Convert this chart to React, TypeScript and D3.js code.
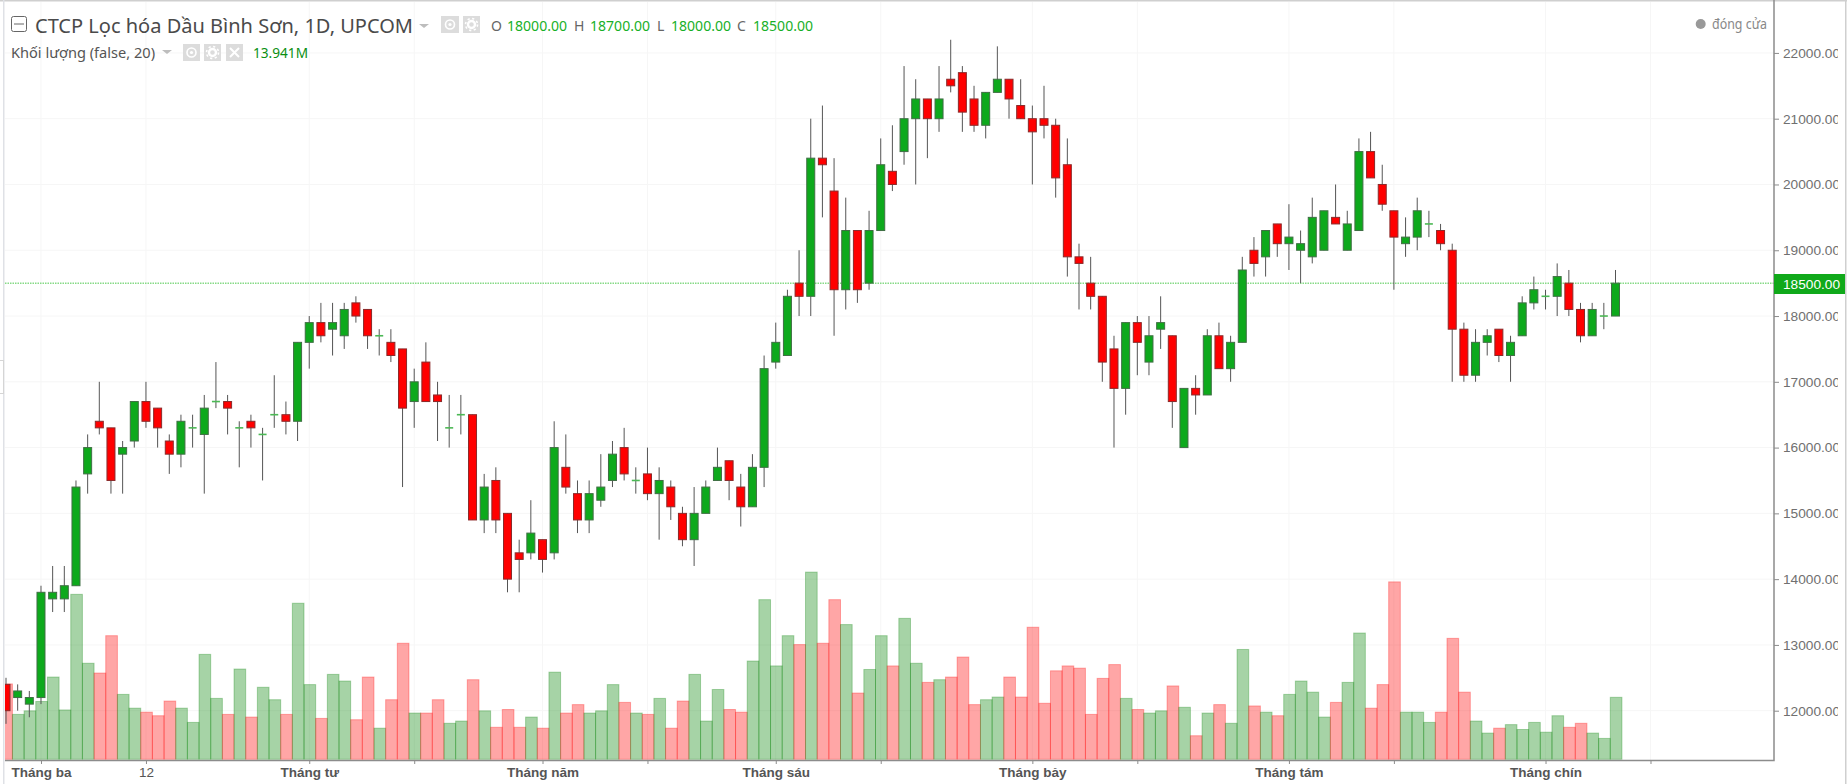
import * as d3 from "d3"
import { useRef, useEffect } from "react"

const opens = [12400,12200,12100,12200,13700,13700,13900,15600,16400,16300,15900,16100,16700,16600,16100,15900,16300,16200,16700,16700,16300,16400,16200,16500,16500,16400,17600,17900,17800,17700,18200,18100,17700,17600,17500,16700,17300,16800,16300,16500,16500,14900,15500,15000,14400,14400,14600,14400,15700,15300,14900,15200,15500,16000,15500,15600,15300,15400,15000,14600,15000,15500,15800,15400,15100,15700,17300,17400,18500,18300,20400,19900,18400,19300,18500,19300,20200,20500,21000,21300,21000,21600,21700,21300,20900,21400,21600,21200,21000,21000,20900,20300,18900,18500,18300,17500,16900,17900,17300,17800,17700,16000,16900,16800,17700,17200,17600,19000,18900,19400,19100,19000,18900,19000,19500,19000,19300,20500,20000,19600,19100,19200,19400,19300,19000,17800,17100,17600,17800,17400,17700,18200,18300,18300,18500,18100,17700,18000,18000]
const highs = [12500,12400,12300,13900,14200,14200,15500,16200,17000,16300,16100,16700,17000,16600,16200,16500,16500,16800,17300,16800,16400,16500,16300,17100,16700,17600,18000,18200,18200,18200,18300,18100,17800,17800,17500,17200,17600,17000,16800,16800,16500,15600,15700,15000,14600,15200,14600,16400,16200,15500,15500,15900,16100,16300,15700,16000,15700,15500,15100,15400,15500,16000,15800,15600,15900,17400,17900,18400,19000,21000,21200,20400,19800,19300,19600,20700,20900,21800,21600,21300,21800,22200,21800,21500,21400,22100,21600,21600,21200,21500,21000,20700,19100,18900,18300,17700,17900,18000,18000,18300,17700,16900,17100,17800,17900,17700,18900,19200,19300,19400,19700,19300,19800,19600,20000,19600,20700,20800,20300,19600,19500,19800,19600,19400,19100,17900,17800,17800,17800,17700,18300,18600,18400,18800,18700,18200,18200,18200,18700]
const lows = [11800,12000,11900,12100,13500,13500,13900,15300,16200,15300,15300,16000,16300,16000,15600,15700,16000,15300,16600,16200,15700,16000,15500,16300,16200,16100,17200,17600,17400,17500,17900,17500,17400,17300,15400,16300,16700,16100,16000,16200,14900,14700,14700,13800,13800,14300,14100,14300,15300,14700,14700,15100,15400,15500,15300,15200,14600,14900,14500,14200,15000,15500,15200,14800,15100,15400,17200,17400,18000,18000,19500,17700,18100,18200,18400,19300,19900,20300,20000,20400,20800,21400,20800,20800,20700,21400,21000,21000,20000,20700,19800,18600,18100,18100,17000,16000,16500,17100,17100,17500,16300,16000,16500,16800,17200,17000,17600,18600,18600,18900,18700,18500,18800,19000,19400,19000,19300,20100,19600,18400,18900,19000,19200,19000,17000,17000,17000,17400,17300,17000,17700,18100,18100,18000,18000,17600,17700,17800,18000]
const closes = [12000,12300,12200,13800,13800,13900,15400,16000,16300,15500,16000,16700,16400,16300,15900,16400,16300,16600,16700,16600,16300,16300,16200,16500,16400,17600,17900,17700,17900,18100,18000,17700,17700,17400,16600,17000,16700,16700,16300,16500,14900,15400,14900,14000,14300,14700,14300,16000,15400,14900,15300,15400,15900,15600,15500,15300,15500,15100,14600,15000,15400,15700,15500,15100,15700,17200,17600,18300,18300,20400,20300,18400,19300,18400,19300,20300,20000,21000,21300,21000,21300,21500,21100,20900,21400,21600,21300,21000,20800,20900,20100,18900,18800,18300,17300,16900,17900,17600,17700,17900,16700,16900,16800,17700,17200,17600,18700,18800,19300,19100,19200,19100,19500,19600,19400,19400,20500,20100,19700,19200,19200,19600,19400,19100,17800,17100,17600,17700,17400,17600,18200,18400,18300,18600,18100,17700,18100,18000,18500]
const volumes = [16.95,10.1,10.9,13.0,18.5,11.1,37.1,21.6,19.4,27.8,14.6,11.5,10.6,9.8,13.1,11.5,8.3,23.6,13.7,10.1,20.3,9.5,16.2,13.4,10.1,35.1,16.8,9.2,19.1,17.6,8.9,18.5,7.0,13.4,26.1,10.4,10.4,13.4,8.1,8.6,17.9,10.9,7.2,11.2,7.2,9.5,7.0,19.6,10.4,12.3,10.4,10.9,16.8,12.8,10.4,10.1,13.7,7.0,13.1,19.1,8.6,15.7,11.2,10.6,22.1,35.9,21.0,27.8,25.8,42.1,26.1,35.9,30.3,14.9,20.2,27.8,21.0,31.7,21.6,17.3,17.9,18.5,23.0,12.3,13.4,14.0,18.5,14.0,29.7,12.6,19.9,21.0,20.5,10.1,18.2,21.3,13.7,11.2,10.4,10.9,16.5,11.7,5.3,10.4,12.3,8.1,24.7,12.0,10.6,9.8,14.6,17.6,15.1,9.5,12.8,17.3,28.4,11.5,16.8,39.9,10.6,10.6,8.3,10.6,27.2,15.1,8.6,5.9,7.0,7.8,6.7,8.3,6.1,9.8,7.2,8.1,5.9,4.7,13.941]

const priceTicks = [12000,13000,14000,15000,16000,17000,18000,19000,20000,21000,22000]
const lastPrice = 18500
const timeTicks = [3,12,26,35,46,55,66,75,88,97,110,119,132,141]
const timeLabels = ["Tháng ba","12","Tháng tư","","Tháng năm","","Tháng sáu","","Tháng bảy","","Tháng tám","","Tháng chín",""]

const UP = "#10a91a"
const DOWN = "#ff0000"
const AXIS = "#8c8c8c"

export default function App() {
  const svgRef = useRef<SVGSVGElement>(null)

  useEffect(() => {
    if (!svgRef.current) return
    const svg = d3.select(svgRef.current)
    svg.selectAll("*").remove()

    const paneLeft = 5
    const paneRight = 1774
    const paneTop = 2
    const paneBottom = 760

    const xScale = d3.scaleLinear().domain([0, 138]).range([6, 1615.5])
    const yScale = d3.scaleLinear().domain([12000, 21000]).range([710.7, 118.7])
    const volScale = d3.scaleLinear().domain([0, 45]).range([759.3, 559.2])
    const step = xScale(1) - xScale(0)
    const bodyWidth = 8

    const isUp = (i: number) => closes[i] >= opens[i]
    const idx = d3.range(closes.length)

    const defs = svg.append("defs")
    defs
      .append("clipPath")
      .attr("id", "pane")
      .append("rect")
      .attr("x", paneLeft)
      .attr("y", paneTop)
      .attr("width", paneRight - paneLeft)
      .attr("height", paneBottom - paneTop)
    defs
      .append("clipPath")
      .attr("id", "scale")
      .append("rect")
      .attr("x", paneRight)
      .attr("y", 0)
      .attr("width", 64)
      .attr("height", 784)
    defs.append("filter").attr("id", "soft").append("feGaussianBlur").attr("stdDeviation", 0.35)

    // frame
    svg.append("rect").attr("width", 1847).attr("height", 784).attr("fill", "#fff")
    svg.append("rect").attr("x", 0).attr("y", 0).attr("width", 1847).attr("height", 1.5).attr("fill", "#cfcfcf")
    svg.append("rect").attr("x", 3).attr("y", 0).attr("width", 1.5).attr("height", 784).attr("fill", "#dfe1e6")
    svg.append("rect").attr("x", 1845).attr("y", 0).attr("width", 1.5).attr("height", 784).attr("fill", "#cfcfcf")
    svg
      .append("rect")
      .attr("x", -1)
      .attr("y", 360.5)
      .attr("width", 4.5)
      .attr("height", 33)
      .attr("fill", "#fff")
      .attr("stroke", "#d5d5d5")

    // grid
    const grid = svg.append("g").attr("stroke", "#f6f6f6").attr("stroke-width", 1)
    grid
      .selectAll("line.h")
      .data(priceTicks)
      .enter()
      .append("line")
      .attr("x1", paneLeft)
      .attr("x2", paneRight)
      .attr("y1", (d) => yScale(d))
      .attr("y2", (d) => yScale(d))
    grid
      .selectAll("line.v")
      .data(timeTicks)
      .enter()
      .append("line")
      .attr("x1", (d) => xScale(d))
      .attr("x2", (d) => xScale(d))
      .attr("y1", paneTop)
      .attr("y2", paneBottom)

    const pane = svg.append("g").attr("clip-path", "url(#pane)")

    // volume
    pane
      .append("g")
      .selectAll("rect")
      .data(idx)
      .enter()
      .append("rect")
      .attr("x", (i) => xScale(i) - step / 2 + 0.6)
      .attr("y", (i) => volScale(volumes[i]))
      .attr("width", step)
      .attr("height", (i) => volScale(0) - volScale(volumes[i]))
      .attr("fill", (i) => (isUp(i) ? "rgba(0,128,0,0.35)" : "rgba(255,0,0,0.35)"))
      .attr("stroke", (i) => (isUp(i) ? "rgba(0,128,0,0.3)" : "rgba(255,0,0,0.3)"))
      .attr("stroke-width", 1)

    // last price line
    pane
      .append("line")
      .attr("x1", paneLeft)
      .attr("x2", paneRight)
      .attr("y1", yScale(lastPrice))
      .attr("y2", yScale(lastPrice))
      .attr("stroke", "#86da86")
      .attr("stroke-width", 1.5)
      .attr("stroke-dasharray", "1.5 1")

    // candles
    const candles = pane.append("g").attr("filter", "url(#soft)")
    candles
      .selectAll("line.wick")
      .data(idx)
      .enter()
      .append("line")
      .attr("x1", (i) => xScale(i))
      .attr("x2", (i) => xScale(i))
      .attr("y1", (i) => yScale(highs[i]))
      .attr("y2", (i) => yScale(lows[i]))
      .attr("stroke", "#555")
      .attr("stroke-width", 1)
    candles
      .selectAll("rect.body")
      .data(idx.filter((i) => opens[i] !== closes[i]))
      .enter()
      .append("rect")
      .attr("x", (i) => xScale(i) - bodyWidth / 2)
      .attr("y", (i) => yScale(Math.max(opens[i], closes[i])))
      .attr("width", bodyWidth)
      .attr("height", (i) => Math.abs(yScale(opens[i]) - yScale(closes[i])))
      .attr("fill", (i) => (isUp(i) ? UP : DOWN))
      .attr("stroke", (i) => (isUp(i) ? "#3f6f45" : "#8a2a2a"))
      .attr("stroke-width", 1)
    candles
      .selectAll("line.doji")
      .data(idx.filter((i) => opens[i] === closes[i]))
      .enter()
      .append("line")
      .attr("x1", (i) => xScale(i) - bodyWidth / 2)
      .attr("x2", (i) => xScale(i) + bodyWidth / 2)
      .attr("y1", (i) => yScale(closes[i]))
      .attr("y2", (i) => yScale(closes[i]))
      .attr("stroke", "#4cb854")
      .attr("stroke-width", 1.6)

    // price scale
    svg
      .append("g")
      .attr("clip-path", "url(#scale)")
      .append("g")
      .attr("transform", `translate(${paneRight},0)`)
      .call(d3.axisRight(yScale).tickValues(priceTicks).tickSize(5).tickPadding(4).tickFormat((d) => (d as number).toFixed(2)))
      .call((g) => g.select(".domain").remove())
      .call((g) => g.selectAll("line").attr("stroke", AXIS).attr("stroke-width", 1))
      .call((g) =>
        g
          .selectAll("text")
          .attr("fill", "#707070")
          .style("font-family", "'Liberation Sans', sans-serif")
          .style("font-size", "13.7px"),
      )
    svg.append("rect").attr("x", 1838).attr("y", 2).attr("width", 7).attr("height", 770).attr("fill", "#fff")

    // time scale
    svg
      .append("g")
      .attr("transform", `translate(0,${paneBottom})`)
      .call(
        d3
          .axisBottom(xScale)
          .tickValues(timeTicks)
          .tickSize(4)
          .tickPadding(3)
          .tickFormat((_d, i) => timeLabels[i]),
      )
      .call((g) => g.select(".domain").remove())
      .call((g) => g.selectAll("line").attr("stroke", AXIS).attr("stroke-width", 1))
      .call((g) =>
        g
          .selectAll("text")
          .attr("fill", "#555")
          .style("font-family", "'Liberation Sans', sans-serif")
          .style("font-size", "13.5px")
          .style("font-weight", (_d, i) => (timeLabels[i] === "12" ? "400" : "700")),
      )

    svg
      .append("path")
      .attr("d", `M${paneLeft},${paneBottom + 0.5}H${paneRight}V0`)
      .attr("fill", "none")
      .attr("stroke", AXIS)
      .attr("stroke-width", 1.5)

    // last price tag
    svg.append("rect").attr("x", paneRight).attr("y", 274).attr("width", 71).attr("height", 20).attr("fill", UP)
    svg
      .append("text")
      .attr("x", 1783)
      .attr("y", 288.8)
      .attr("fill", "#fff")
      .style("font-family", "'Liberation Sans', sans-serif")
      .style("font-size", "13.7px")
      .text(lastPrice.toFixed(2))

    // legend
    const ui = "'Noto Sans', sans-serif"
    const label = (x: number, y: number, text: string, size: number, fill: string, len?: number) => {
      const t = svg
        .append("text")
        .attr("x", x)
        .attr("y", y)
        .attr("fill", fill)
        .style("font-family", ui)
        .style("font-size", `${size}px`)
        .text(text)
      if (len) t.attr("textLength", len).attr("lengthAdjust", "spacingAndGlyphs")
    }
    const arrow = (x: number, y: number) =>
      svg.append("path").attr("d", `M${x},${y}h10l-5,4z`).attr("fill", "#bdbdbd")
    const iconBox = (x: number, y: number, w: number, h: number, glyph: string) => {
      svg.append("rect").attr("x", x).attr("y", y).attr("width", w).attr("height", h).attr("fill", "#dcdcdc")
      const cx = x + w / 2
      const cy = y + h / 2
      if (glyph === "eye") {
        svg.append("circle").attr("cx", cx).attr("cy", cy).attr("r", 4.5).attr("fill", "none").attr("stroke", "#fff").attr("stroke-width", 1.6)
        svg.append("circle").attr("cx", cx).attr("cy", cy).attr("r", 1.6).attr("fill", "#fff")
      } else if (glyph === "gear") {
        svg.append("circle").attr("cx", cx).attr("cy", cy).attr("r", 3.5).attr("fill", "none").attr("stroke", "#fff").attr("stroke-width", 2.4)
        svg
          .append("circle")
          .attr("cx", cx)
          .attr("cy", cy)
          .attr("r", 6)
          .attr("fill", "none")
          .attr("stroke", "#fff")
          .attr("stroke-width", 1.6)
          .attr("stroke-dasharray", "2.2 2.5")
      } else {
        svg
          .append("path")
          .attr("d", `M${cx - 4.5},${cy - 4.5}L${cx + 4.5},${cy + 4.5}M${cx + 4.5},${cy - 4.5}L${cx - 4.5},${cy + 4.5}`)
          .attr("stroke", "#fff")
          .attr("stroke-width", 2)
      }
    }

    svg
      .append("rect")
      .attr("x", 11.5)
      .attr("y", 16.5)
      .attr("width", 15)
      .attr("height", 15)
      .attr("rx", 2)
      .attr("fill", "#fff")
      .attr("stroke", "#666")
    svg.append("line").attr("x1", 14).attr("x2", 24).attr("y1", 24).attr("y2", 24).attr("stroke", "#666")
    label(35, 33, "CTCP Lọc hóa Dầu Bình Sơn, 1D, UPCOM", 19.5, "#4a4a4a", 378)
    arrow(419, 24)
    iconBox(441, 16, 18, 17, "eye")
    iconBox(463, 16, 17, 17, "gear")
    const ohlc = [
      { k: "O", kx: 491, v: 18000, vx: 507 },
      { k: "H", kx: 574, v: 18700, vx: 590 },
      { k: "L", kx: 657, v: 18000, vx: 671 },
      { k: "C", kx: 737, v: 18500, vx: 753 },
    ]
    ohlc.forEach((o) => {
      label(o.kx, 31, o.k, 14, "#666")
      label(o.vx, 31, o.v.toFixed(2), 14.5, "#18b028", 60)
    })
    label(11, 58, "Khối lượng (false, 20)", 15, "#555", 144)
    arrow(162, 50)
    iconBox(183, 44, 17, 17, "eye")
    iconBox(204, 44, 17, 17, "gear")
    iconBox(226, 44, 17, 17, "x")
    label(253, 58, "13.941M", 14.5, "#0a8f12", 55)

    svg.append("circle").attr("cx", 1700.7).attr("cy", 24).attr("r", 5).attr("fill", "#999")
    label(1712, 29, "đóng cửa", 14, "#888", 55)
  }, [])

  return (
    <svg
      ref={svgRef}
      width={1847}
      height={784}
      style={{ position: "fixed", left: 0, top: 0, display: "block" }}
    />
  )
}
